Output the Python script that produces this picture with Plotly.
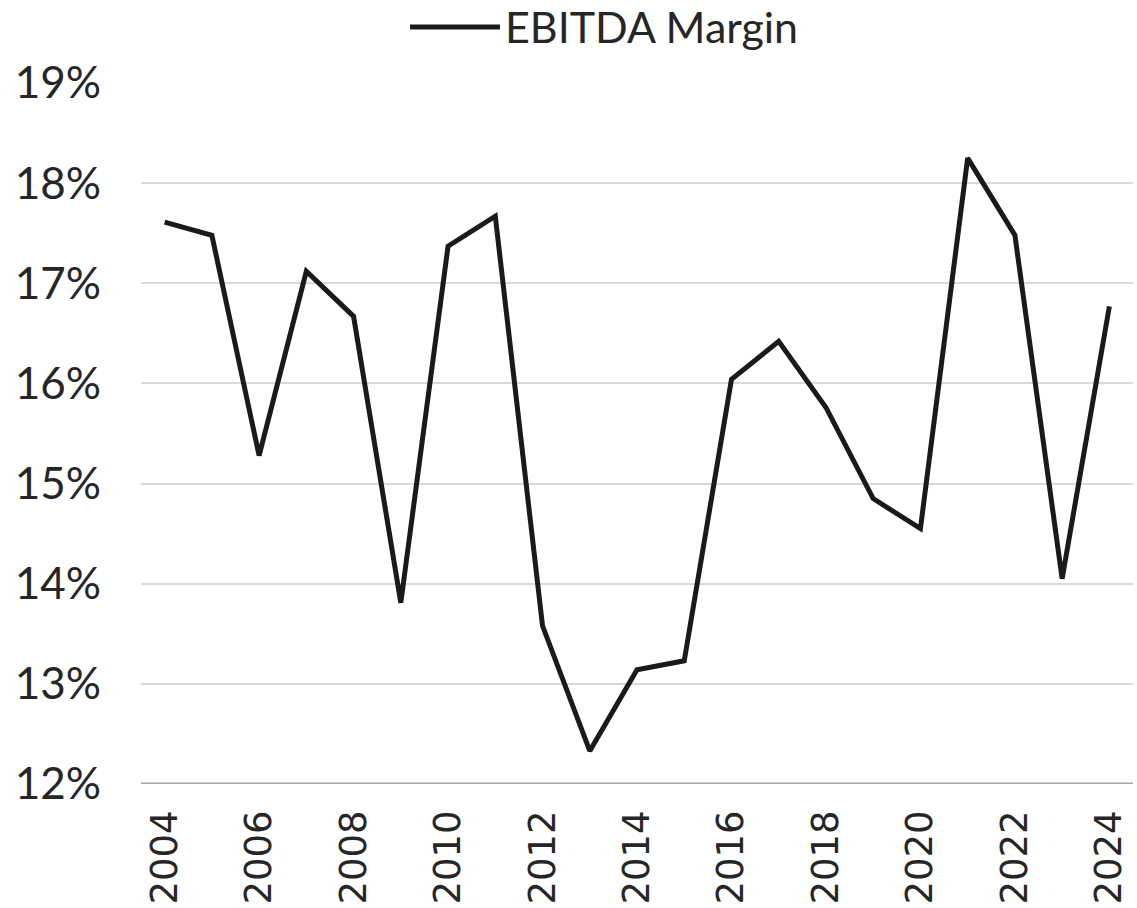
import plotly.graph_objects as go

# EBITDA margin by year (%)
years = list(range(2004, 2025))
ebitda_margin = [17.61, 17.48, 15.28, 17.12, 16.67, 13.81, 17.37, 17.67, 13.58, 12.33,
                 13.14, 13.23, 16.04, 16.42, 15.76, 14.85, 14.55, 18.25, 17.48, 14.05, 16.77]
y_ticks = [12, 13, 14, 15, 16, 17, 18, 19]
y_tick_labels = [f"{v}%" for v in y_ticks]

fig = go.Figure()
fig.add_trace(go.Scatter(
    x=years, y=ebitda_margin, mode="lines", name="EBITDA Margin",
    line=dict(color="#1a1a1a", width=5), showlegend=False,
))

# legend drawn as a line sample plus label above the plot
fig.add_shape(type="line", xref="paper", yref="paper",
              x0=(410 - 141) / 992, x1=(500 - 141) / 992,
              y0=(784 - 27) / 701, y1=(784 - 27) / 701,
              line=dict(color="#1a1a1a", width=5))
fig.add_annotation(text="EBITDA Margin", xref="paper", yref="paper",
                   x=(503 - 141) / 992, y=(784 - 26) / 701,
                   xanchor="left", yanchor="middle", showarrow=False,
                   font=dict(family="Lato", size=43, color="#262626"))

fig.update_layout(
    width=1137, height=908,
    margin=dict(l=141, r=4, t=83, b=124),
    paper_bgcolor="white", plot_bgcolor="white",
    xaxis=dict(
        range=[2003.5, 2024.5], tick0=2004, dtick=2, tickangle=-90,
        showgrid=False, zeroline=False, showline=False, ticks="",
        ticklabelstandoff=18,
        tickfont=dict(family="DejaVu Sans", size=37, color="#262626"),
    ),
    yaxis=dict(
        range=[12, 19], tickvals=y_ticks, ticktext=y_tick_labels,
        showgrid=True, gridcolor="#d9d9d9", gridwidth=2,
        zeroline=False, showline=False, ticks="",
        ticklabelstandoff=39,
        tickfont=dict(family="Lato", size=44, color="#262626"),
    ),
)
# bottom axis line
fig.add_hline(y=12, line=dict(color="#a6a6a6", width=3))

fig.write_html("out.html")
